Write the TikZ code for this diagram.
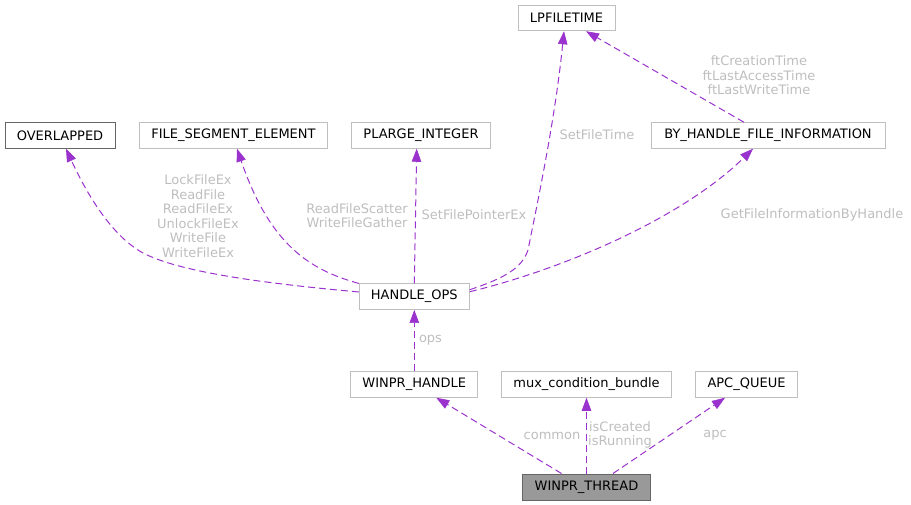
\documentclass[tikz,border=0pt]{standalone}
\usepackage{fontspec}
\setmainfont{DejaVu Sans}
\usetikzlibrary{arrows.meta}
\definecolor{edgec}{HTML}{9A32CD}
\definecolor{lblc}{HTML}{BEBEBE}
\definecolor{boxc}{HTML}{BFBFBF}
\definecolor{darkb}{HTML}{666666}
\definecolor{fillg}{HTML}{999999}
\begin{document}
\begin{tikzpicture}[x=1pt,y=-1pt,
  box/.style={draw=boxc,line width=1pt,rectangle,inner sep=0pt,minimum height=25.5pt,
    font=\fontsize{13}{14.5}\selectfont,text=black},
  lbl/.style={inner sep=0pt,align=center,text=lblc,font=\fontsize{13}{14.5}\selectfont},
  edge/.style={draw=edgec,line width=1pt,dash pattern=on 7pt off 4pt,
    -{Triangle[length=13pt,width=9.5pt,fill=edgec,line width=0.6pt]}}]
\useasboundingbox (0,0) rectangle (911,505);
\node[box,minimum width=97pt] (LP) at (566.5,18) {LPFILETIME};
\node[box,draw=darkb,minimum width=110pt] (OV) at (60,135.5) {OVERLAPPED};
\node[box,minimum width=188pt] (FSE) at (233.5,135.5) {FILE\_SEGMENT\_ELEMENT};
\node[box,minimum width=139pt] (PL) at (421,135.5) {PLARGE\_INTEGER};
\node[box,minimum width=234pt] (BH) at (768,135.5) {BY\_HANDLE\_FILE\_INFORMATION};
\node[box,minimum width=110pt] (HO) at (414.3,296.7) {HANDLE\_OPS};
\node[box,minimum width=126.7pt] (WH) at (414.3,384.5) {WINPR\_HANDLE};
\node[box,minimum width=169.6pt] (MUX) at (586.5,384.5) {mux\_condition\_bundle};
\node[box,minimum width=101.6pt] (APC) at (746.5,384.5) {APC\_QUEUE};
\node[box,draw=darkb,fill=fillg,minimum width=127.6pt,minimum height=26pt] (WT) at (586.5,487) {WINPR\_THREAD};

\draw[edge] ([yshift=4.7pt]HO.west) .. controls (260,283) and (180,272) .. (143,253)
  .. controls (110,235) and (85,190) .. ([xshift=6pt]OV.south);
\draw[edge] (HO.north west) .. controls (310,270) and (270,245) .. ([xshift=3.5pt]FSE.south);
\draw[edge] (HO.north) -- ([xshift=-4.3pt]PL.south);
\draw[edge] ([yshift=7pt]HO.east) .. controls (505,278) and (522,268) .. (528,250)
  .. controls (538,200) and (555,120) .. ([xshift=-2.5pt]LP.south);
\draw[edge] ([yshift=5pt]HO.east) .. controls (560,270) and (680,220) .. ([xshift=-15pt]BH.south);
\draw[edge] ([xshift=-24pt]BH.north) -- ([xshift=19.5pt]LP.south);
\draw[edge] (WH.north) -- (HO.south);
\draw[edge] ([xshift=-25pt]WT.north) -- ([xshift=22pt]WH.south);
\draw[edge] (WT.north) -- (MUX.south);
\draw[edge] ([xshift=26.5pt]WT.north) -- ([xshift=-21.5pt]APC.south);

\node[lbl] (l1) at (198,216) {LockFileEx\\ReadFile\\ReadFileEx\\UnlockFileEx\\WriteFile\\WriteFileEx};
\node[lbl] (l2) at (357,215.5) {ReadFileScatter\\WriteFileGather};
\node[lbl] (l3) at (474,214.5) {SetFilePointerEx};
\node[lbl] (l4) at (597,134.5) {SetFileTime};
\node[lbl] (l5) at (812,214.5) {GetFileInformationByHandle};
\node[lbl] (l6) at (759,75.5) {ftCreationTime\\ftLastAccessTime\\ftLastWriteTime};
\node[lbl] (l7) at (430.5,340.5) {ops};
\node[lbl] (l8) at (552,435.5) {common};
\node[lbl] (l9) at (620,435) {isCreated\\isRunning};
\node[lbl] (l10) at (715,435.5) {apc};
\end{tikzpicture}
\end{document}
